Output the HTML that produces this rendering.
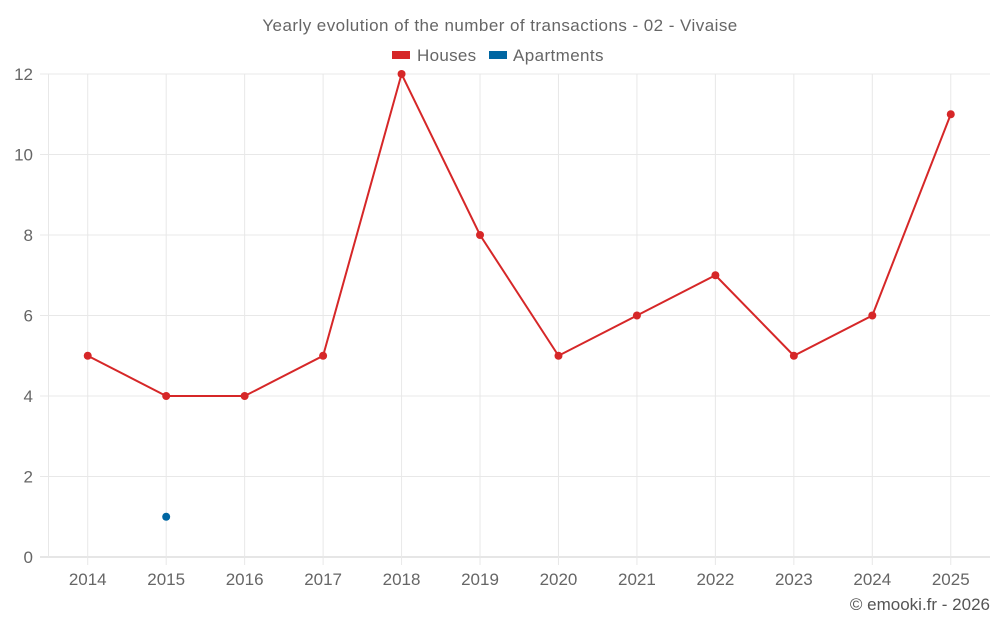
<!DOCTYPE html>
<html><head><meta charset="utf-8"><style>
body{margin:0;background:#fff;font-family:"Liberation Sans",sans-serif;}
svg text{font-family:"Liberation Sans",sans-serif;}
</style></head><body>
<svg id="c" width="1000" height="625">
<text x="500" y="31" text-anchor="middle" font-size="17" letter-spacing="0.45" fill="#666">Yearly evolution of the number of transactions - 02 - Vivaise</text>
<g><rect x="392" y="51" width="18" height="8" fill="#d62728"/><text x="417" y="61" font-size="17" letter-spacing="0.3" fill="#666">Houses</text></g>
<g><rect x="489" y="51" width="18" height="8" fill="#0066a2"/><text x="513" y="61" font-size="17" letter-spacing="0.4" fill="#666">Apartments</text></g>
<g id="grid"></g><g id="marks"></g>
<text x="990" y="610" text-anchor="end" font-size="17" fill="#555">© emooki.fr - 2026</text>
</svg>
<script>
const years=["2014","2015","2016","2017","2018","2019","2020","2021","2022","2023","2024","2025"];
const houses=[5,4,4,5,12,8,5,6,7,5,6,11];
const apartments=[null,1,null,null,null,null,null,null,null,null,null,null];
const yTicks=[0,2,4,6,8,10,12];
const L=48.5,R=990,T=74,B=557,ymax=12;
const bw=(R-L)/years.length;
const xs=i=>L+bw*(i+0.5);
const ys=v=>B-(B-T)*v/ymax;
const NS="http://www.w3.org/2000/svg";
const g=document.getElementById('grid'),m=document.getElementById('marks');
function mk(p,tag,a){const e=document.createElementNS(NS,tag);for(const k in a)e.setAttribute(k,a[k]);p.appendChild(e);return e;}
yTicks.forEach(v=>{
const ln=mk(g,'line',{x1:40,x2:R,y1:ys(v),y2:ys(v),stroke:v===0?'#ccc':'#e8e8e8'});


const t=mk(g,'text',{x:33,y:ys(v)+6,'text-anchor':'end','font-size':17,fill:'#666'});t.textContent=v;


});
mk(g,'line',{x1:L,x2:L,y1:T,y2:B,stroke:'#e8e8e8'});
years.forEach((y,i)=>{
const ln=mk(g,'line',{x1:xs(i),x2:xs(i),y1:T,y2:B+8,stroke:'#e8e8e8'});


const t=mk(g,'text',{x:xs(i),y:585,'text-anchor':'middle','font-size':17,fill:'#666'});t.textContent=y;


});
const pl=mk(m,'polyline',{points:houses.map((v,i)=>xs(i)+','+ys(v)).join(' '),fill:'none',stroke:'#d62728','stroke-width':2});


houses.forEach((v,i)=>{const c=mk(m,'circle',{cx:xs(i),cy:ys(v),r:4,fill:'#d62728'});

});
apartments.forEach((v,i)=>{if(v===null)return;const c=mk(m,'circle',{cx:xs(i),cy:ys(v),r:4,fill:'#0066a2'});

});
</script>
</body></html>
